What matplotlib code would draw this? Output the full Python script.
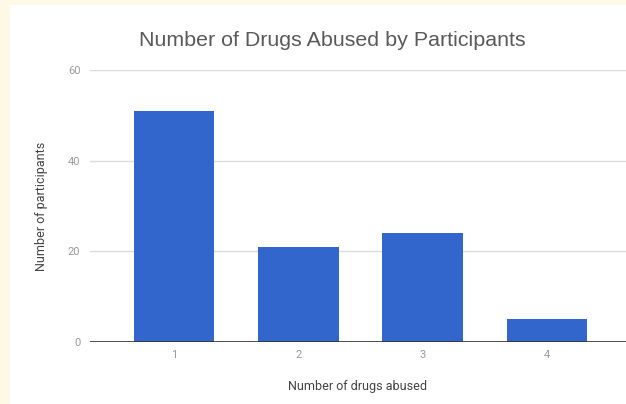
import matplotlib
matplotlib.use("Agg")
import matplotlib.pyplot as plt
from matplotlib.patches import Rectangle

# number of drugs abused vs. participant counts
drug_counts = ["1", "2", "3", "4"]
participants = [51, 21, 24, 5]
y_ticks = [0, 20, 40, 60]

plt.rcParams['font.family'] = ['Roboto', 'DejaVu Sans']

fig = plt.figure(figsize=(6.26, 4.04), dpi=100)
fig.patch.set_facecolor('#fef9e6')
# white card behind the chart
fig.patches.append(Rectangle((10 / 626, 0), 1, 399 / 404, transform=fig.transFigure,
                             facecolor='white', edgecolor='none', zorder=-5))

ax = fig.add_axes([90 / 626, 62 / 404, 536 / 626, 272 / 404])
ax.set_facecolor('none')

x = range(1, len(drug_counts) + 1)
ax.bar(x, participants, width=0.65, color='#3366cc', zorder=3)

ax.set_xlim(0.324, 4.636)
ax.set_ylim(0, 60)
ax.set_yticks(y_ticks)
ax.set_xticks(list(x))
ax.set_xticklabels(drug_counts)
ax.grid(axis='y', color='#dcdcdc', linewidth=1, zorder=1)
ax.axhline(0, color='#333333', linewidth=1.2, zorder=4)

for s in ax.spines.values():
    s.set_visible(False)
ax.tick_params(axis='both', length=0, labelsize=8, colors='#9a9a9a')
ax.tick_params(axis='y', pad=7)
ax.tick_params(axis='x', pad=6)

ax.set_xlabel('Number of drugs abused', fontsize=9, color='#444444', labelpad=14)
ax.set_ylabel('Number of participants', fontsize=9, color='#444444', labelpad=14)

fig.text(332 / 626, 1 - 41 / 404, 'Number of Drugs Abused by Participants',
         ha='center', va='center', fontsize=15.4, color='#5a5a5a',
         family=['Liberation Sans', 'DejaVu Sans'])

fig.savefig('out.png', dpi=100, facecolor=fig.get_facecolor())
